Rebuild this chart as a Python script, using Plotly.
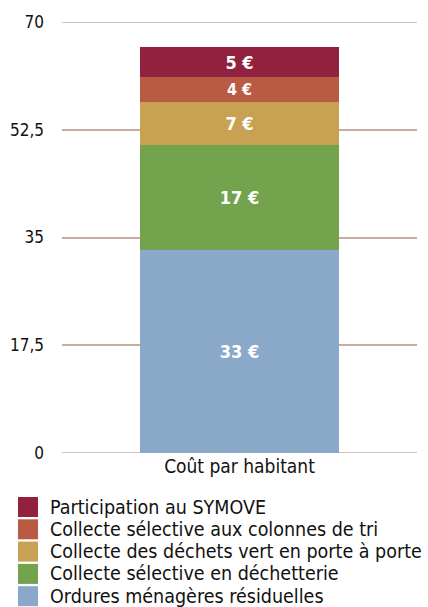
import plotly.graph_objects as go

category = ["Coût par habitant"]
series_names = [
    "Ordures ménagères résiduelles",
    "Collecte sélective en déchetterie",
    "Collecte des déchets vert en porte à porte",
    "Collecte sélective aux colonnes de tri",
    "Participation au SYMOVE",
]
series_values = [33, 17, 7, 4, 5]
series_colors = ["#8aa9c9", "#73a34d", "#c9a152", "#b95b43", "#92203f"]
tick_vals = [0, 17.5, 35, 52.5, 70]
tick_text = ["0", "17,5", "35", "52,5", "70"]

FONT = "DejaVu Sans Condensed, DejaVu Sans"
GRID = "#c9ab9f"
W, H = 428, 607
ML, MR, MT, MB = 62, 11, 22, 154
PW, PH = W - ML - MR, H - MT - MB


def px_to_paper(x, y):
    return (x - ML) / PW, (H - MB - y) / PH


fig = go.Figure()
for name, val, col in zip(series_names, series_values, series_colors):
    fig.add_trace(go.Bar(
        x=category, y=[val], name=name, marker=dict(color=col, line=dict(width=0)),
        text=[f"{val} €"], textposition="inside", insidetextanchor="middle",
        textangle=0,
        textfont=dict(color="white", size=18, family=FONT, weight="bold"),
        width=0.56, showlegend=False, hoverinfo="skip",
    ))

# custom legend (top entry = top segment)
for i, (name, col) in enumerate(zip(series_names[::-1], series_colors[::-1])):
    cy = 507 + 22.3 * i
    x0, y0 = px_to_paper(18, cy - 10)
    x1, y1 = px_to_paper(38, cy + 10)
    fig.add_shape(type="rect", xref="paper", yref="paper", x0=x0, x1=x1, y0=y1, y1=y0,
                  fillcolor=col, line=dict(width=0))
    tx, ty = px_to_paper(48, cy)
    fig.add_annotation(xref="paper", yref="paper", x=tx, y=ty, text=name,
                       showarrow=False, xanchor="left", yanchor="middle",
                       font=dict(family=FONT, size=19.5, color="#111111"))

for yv in (tick_vals[0], tick_vals[-1]):
    fig.add_shape(type="line", xref="paper", yref="y", x0=0, x1=1, y0=yv, y1=yv,
                  line=dict(color=GRID, width=1.5), layer="below")

fig.update_layout(
    barmode="stack",
    width=W, height=H,
    margin=dict(l=ML, r=MR, t=MT, b=MB, autoexpand=False),
    paper_bgcolor="white", plot_bgcolor="white",
    font=dict(family=FONT, color="#111111", size=17),
    xaxis=dict(type="category", range=[-0.5, 0.5], showgrid=False, showline=False,
               ticks="", tickfont=dict(size=19), automargin=False),
    yaxis=dict(range=[0, 70], tickvals=tick_vals, ticktext=tick_text,
               showgrid=True, gridcolor=GRID, gridwidth=1.5, zeroline=False,
               showline=False, ticks="", ticklabelstandoff=17, tickfont=dict(size=17),
               automargin=False),
    showlegend=False,
)

fig.write_html("out.html", config={"displayModeBar": False},
               post_script="document.body.style.margin='0';")
